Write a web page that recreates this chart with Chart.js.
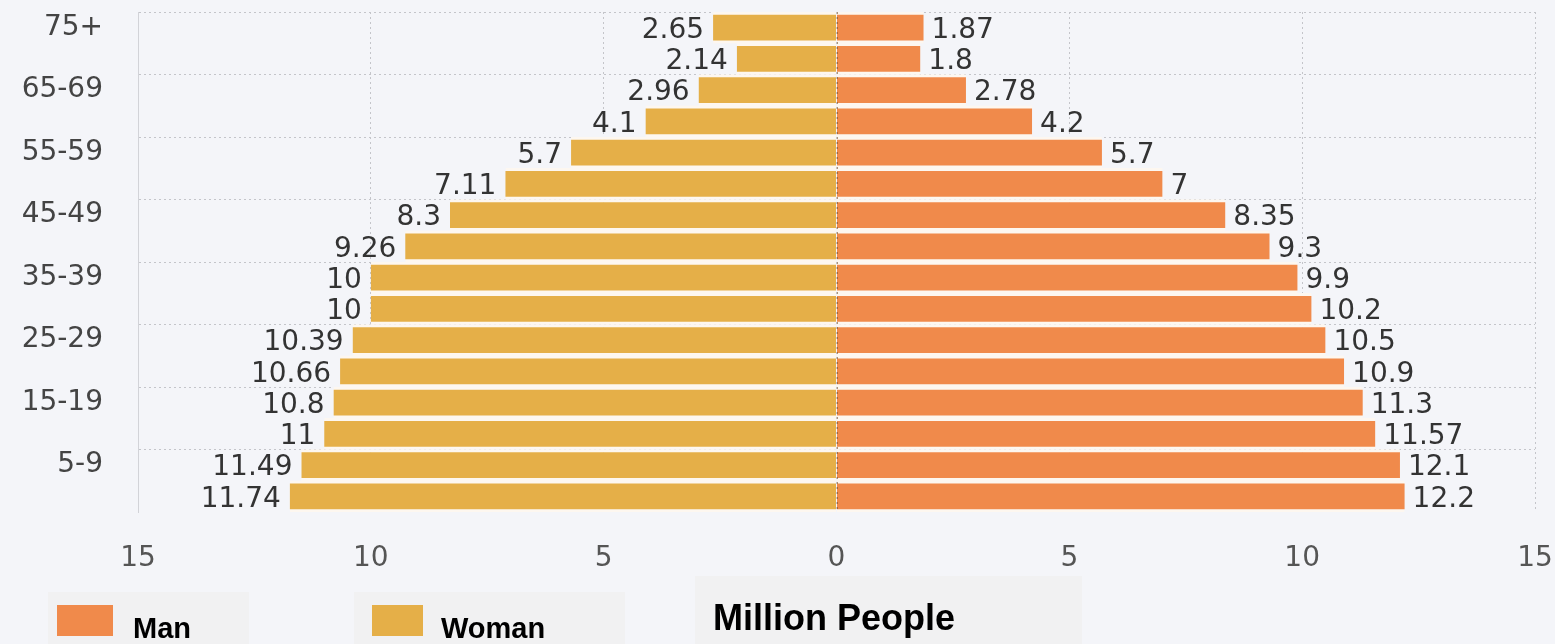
<!DOCTYPE html>
<html>
<head>
<meta charset="utf-8">
<script src="https://cdn.jsdelivr.net/npm/chart.js@4/dist/chart.umd.min.js"></script>
<style>
  html, body { margin: 0; padding: 0; background: #f4f5f9; }
  #wrap { position: relative; width: 1555px; height: 644px; overflow: hidden; }
  canvas { position: absolute; left: 0; top: 0; }
  .panel { position: absolute; background: #f1f1f2; }
  .box { position: absolute; }
  .txt { position: absolute; font-family: "Liberation Sans", Arial, sans-serif; font-weight: bold; color: #000; white-space: nowrap; line-height: 1; }
</style>
</head>
<body>
<div id="wrap">
  <canvas id="c" width="1555" height="644"></canvas>
  <div class="panel" style="left:48px;top:592px;width:201px;height:52px;"></div>
  <div class="panel" style="left:354px;top:592px;width:271px;height:52px;"></div>
  <div class="panel" style="left:695px;top:576px;width:387px;height:68px;"></div>
  <div class="box" style="left:57px;top:605px;width:56px;height:31px;background:#f08a4b;"></div>
  <div class="box" style="left:372px;top:605px;width:51px;height:31px;background:#e5af48;"></div>
  <div class="txt" style="left:133px;top:614px;font-size:29px;">Man</div>
  <div class="txt" style="left:441px;top:614px;font-size:29px;">Woman</div>
  <div class="txt" style="left:713px;top:600px;font-size:36px;">Million People</div>
</div>
<script>
const ageGroups = ['75+','70-74','65-69','60-64','55-59','50-54','45-49','40-44','35-39','30-34','25-29','20-24','15-19','10-14','5-9','0-4'];
const womanValues = [2.65, 2.14, 2.96, 4.1, 5.7, 7.11, 8.3, 9.26, 10, 10, 10.39, 10.66, 10.8, 11, 11.49, 11.74];
const manValues = [1.87, 1.8, 2.78, 4.2, 5.7, 7, 8.35, 9.3, 9.9, 10.2, 10.5, 10.9, 11.3, 11.57, 12.1, 12.2];
const xTickMin = -15, xTickMax = 15, xTickStep = 5;

const MAN_COLOR = '#f08a4b';
const WOMAN_COLOR = '#e5af48';
const GAP_COLOR = '#fdf7f0';
const GRID = '#c4c5ca';

const valueLabels = {
  id: 'valueLabels',
  afterDatasetsDraw(chart) {
    const ctx = chart.ctx;
    ctx.save();
    // zero line drawn over bars
    const xs = chart.scales.x;
    const x0 = Math.round(xs.getPixelForValue(0)) + 0.5;
    ctx.strokeStyle = 'rgba(120,80,40,0.6)';
    ctx.lineWidth = 1;
    ctx.setLineDash([2, 3]);
    ctx.beginPath();
    ctx.moveTo(x0, chart.chartArea.top);
    ctx.lineTo(x0, chart.chartArea.bottom);
    ctx.stroke();
    ctx.setLineDash([]);

    ctx.font = '28px "DejaVu Sans", Verdana, sans-serif';
    ctx.fillStyle = '#333';
    ctx.textBaseline = 'middle';
    chart.data.datasets.forEach((ds, di) => {
      const meta = chart.getDatasetMeta(di);
      meta.data.forEach((bar, i) => {
        const raw = di === 0 ? manValues[i] : womanValues[i];
        const txt = String(raw);
        if (di === 0) {
          ctx.textAlign = 'left';
          ctx.fillText(txt, bar.x + 8, bar.y + 3);
        } else {
          ctx.textAlign = 'right';
          ctx.fillText(txt, bar.x - 9, bar.y + 3);
        }
      });
    });
    ctx.restore();
  }
};

const barStyle = {
  borderWidth: { top: 3, bottom: 3, left: 0, right: 0 },
  borderColor: GAP_COLOR,
  borderSkipped: false,
  barPercentage: 1,
  categoryPercentage: 1
};

new Chart(document.getElementById('c'), {
  type: 'bar',
  data: {
    labels: ageGroups,
    datasets: [
      Object.assign({ label: 'Man', data: manValues, backgroundColor: MAN_COLOR }, barStyle),
      Object.assign({ label: 'Woman', data: womanValues.map(v => -v), backgroundColor: WOMAN_COLOR }, barStyle)
    ]
  },
  options: {
    indexAxis: 'y',
    responsive: false,
    animation: false,
    devicePixelRatio: 1,
    layout: { padding: { top: 12, right: 20, left: 0, bottom: 0 } },
    plugins: { legend: { display: false }, tooltip: { enabled: false } },
    scales: {
      x: {
        stacked: true,
        min: xTickMin,
        max: xTickMax,
        ticks: {
          stepSize: xTickStep,
          padding: 0,
          color: '#555',
          font: { family: '"DejaVu Sans", Verdana, sans-serif', size: 28 },
          callback: v => String(Math.abs(v))
        },
        grid: { color: GRID, lineWidth: 1, drawTicks: true, tickLength: 30, tickColor: 'rgba(0,0,0,0)' },
        border: { display: false, dash: [2, 3] },
        afterFit: s => { s.height = 644 - 512; }
      },
      y: {
        stacked: true,
        ticks: {
          autoSkip: false,
          padding: 0,
          color: '#444',
          font: { family: '"DejaVu Sans", Verdana, sans-serif', size: 28, lineHeight: 0.8 },
          callback: function(v, i) { return i % 2 === 0 ? this.getLabelForValue(v) : ''; }
        },
        grid: {
          offset: true,
          drawTicks: true,
          tickLength: 35,
          tickColor: 'rgba(0,0,0,0)',
          color: c => (c.index % 2 === 0 ? GRID : 'rgba(0,0,0,0)')
        },
        border: { display: true, color: '#d2d3d8', width: 1, dash: [2, 3] },
        afterFit: s => { s.width = 138; }
      }
    }
  },
  plugins: [valueLabels]
});
</script>
</body>
</html>
